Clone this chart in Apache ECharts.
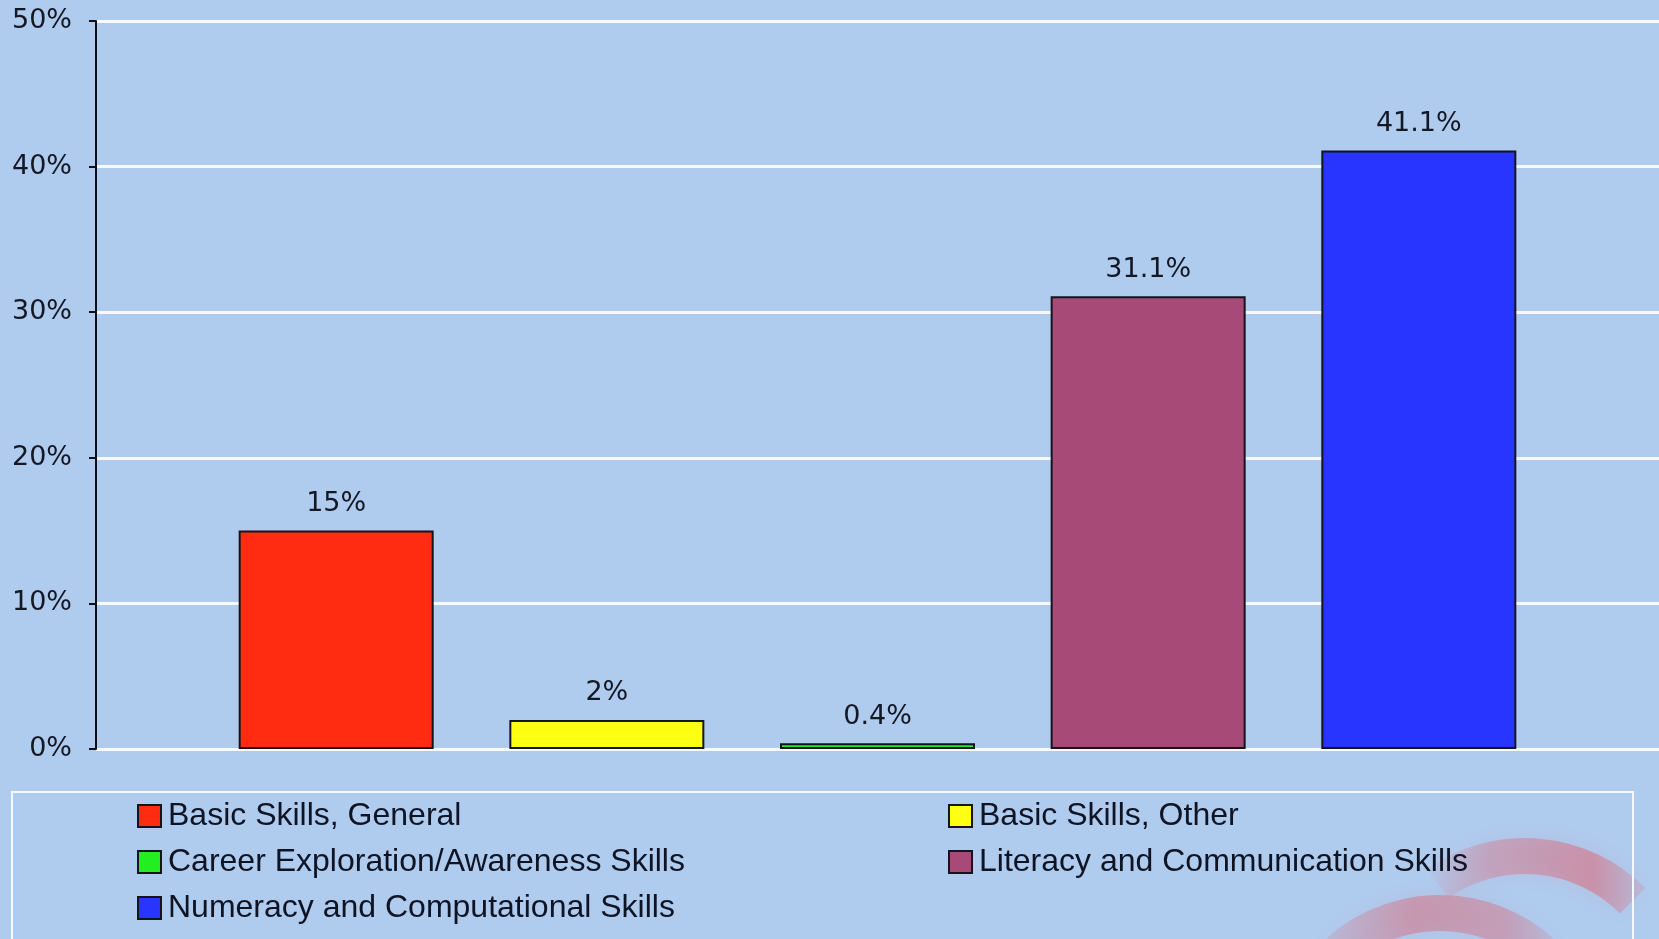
<!DOCTYPE html>
<html>
<head>
<meta charset="utf-8">
<script src="https://cdn.jsdelivr.net/npm/echarts@6/dist/echarts.min.js"></script>
<style>
  html, body { margin: 0; padding: 0; background: #afcbee; }
  #chart { width: 1659px; height: 939px; }
</style>
</head>
<body>
<div id="chart"></div>
<script>
// Share of instruction by skill area (percent)
const seriesNames = [
  'Basic Skills, General',
  'Basic Skills, Other',
  'Career Exploration/Awareness Skills',
  'Literacy and Communication Skills',
  'Numeracy and Computational Skills'
];
const seriesValues = [15, 2, 0.4, 31.1, 41.1];
const seriesColors = ['#ff2c12', '#ffff14', '#22ee22', '#a84a78', '#2834ff'];
const categories = [''];
const yTicks = { min: 0, max: 50, interval: 10 };

// Legend laid out in two columns, row by row
const legendLeftColumn = [seriesNames[0], seriesNames[2], seriesNames[4]];
const legendRightColumn = [seriesNames[1], seriesNames[3]];

const chart = echarts.init(document.getElementById('chart'));

const legendStyle = {
  orient: 'vertical',
  top: 798,
  padding: 0,
  itemWidth: 23,
  itemHeight: 22,
  itemGap: 10,
  icon: 'rect',
  selectedMode: false,
  textStyle: {
    fontFamily: '"Liberation Sans", Arial, sans-serif',
    fontSize: 32,
    lineHeight: 36,
    color: '#0e1424',
    padding: [0, 0, 0, 2]
  }
};

// soft red bands fading out towards their ends
function fadingBand(stops) {
  return new echarts.graphic.LinearGradient(0, 0, 1, 0,
    stops.map(([offset, a]) => ({ offset: offset, color: 'rgba(226,88,100,' + a + ')' })));
}

chart.setOption({
  backgroundColor: '#afcbee',
  animation: false,
  grid: { left: 96, right: 0, top: 21, bottom: 190 },
  xAxis: {
    type: 'category',
    data: categories,
    axisLine: { show: false },
    axisTick: { show: false },
    axisLabel: { show: false }
  },
  yAxis: {
    type: 'value',
    min: yTicks.min,
    max: yTicks.max,
    interval: yTicks.interval,
    axisLine: { show: true, lineStyle: { color: '#101018', width: 2 } },
    axisTick: { show: true, length: 7, lineStyle: { color: '#101018', width: 2 } },
    axisLabel: {
      formatter: '{value}%',
      margin: 24,
      fontFamily: '"DejaVu Sans", Verdana, sans-serif',
      fontSize: 27,
      color: '#141824'
    },
    splitLine: { show: true, lineStyle: { color: '#f6f9ff', width: 3 } }
  },
  legend: [
    Object.assign({ left: 137, data: legendLeftColumn }, legendStyle),
    Object.assign({ left: 948, data: legendRightColumn }, legendStyle)
  ],
  graphic: [
    // decorative swooshes in the lower right corner
    {
      type: 'arc', silent: true, z: 0,
      shape: { cx: 1525, cy: 1008, r: 152, startAngle: 4.1, endAngle: 5.5 },
      style: {
        stroke: fadingBand([[0, 0], [0.3, 0.3], [0.75, 0.45], [1, 0.1]]),
        lineWidth: 36, fill: null,
        shadowBlur: 20, shadowColor: 'rgba(226,88,100,0.25)'
      }
    },
    {
      type: 'arc', silent: true, z: 0,
      shape: { cx: 1440, cy: 1065, r: 152, startAngle: 3.9, endAngle: 5.5 },
      style: {
        stroke: fadingBand([[0, 0.1], [0.4, 0.4], [0.75, 0.35], [1, 0.1]]),
        lineWidth: 36, fill: null,
        shadowBlur: 20, shadowColor: 'rgba(226,88,100,0.25)'
      }
    },
    // legend frame
    {
      type: 'rect', silent: true, z: 1,
      shape: { x: 12, y: 792, width: 1621, height: 200 },
      style: { fill: null, stroke: '#f4f8ff', lineWidth: 2 }
    }
  ],
  series: seriesNames.map((name, i) => ({
    name: name,
    type: 'bar',
    data: [seriesValues[i]],
    barWidth: 195,
    barGap: '38.8%',
    itemStyle: { color: seriesColors[i], borderColor: '#14141c', borderWidth: 2 },
    label: {
      show: true,
      position: 'top',
      distance: 13,
      formatter: '{c}%',
      fontFamily: '"DejaVu Sans", Verdana, sans-serif',
      fontSize: 27,
      color: '#141824'
    }
  }))
});
</script>
</body>
</html>
